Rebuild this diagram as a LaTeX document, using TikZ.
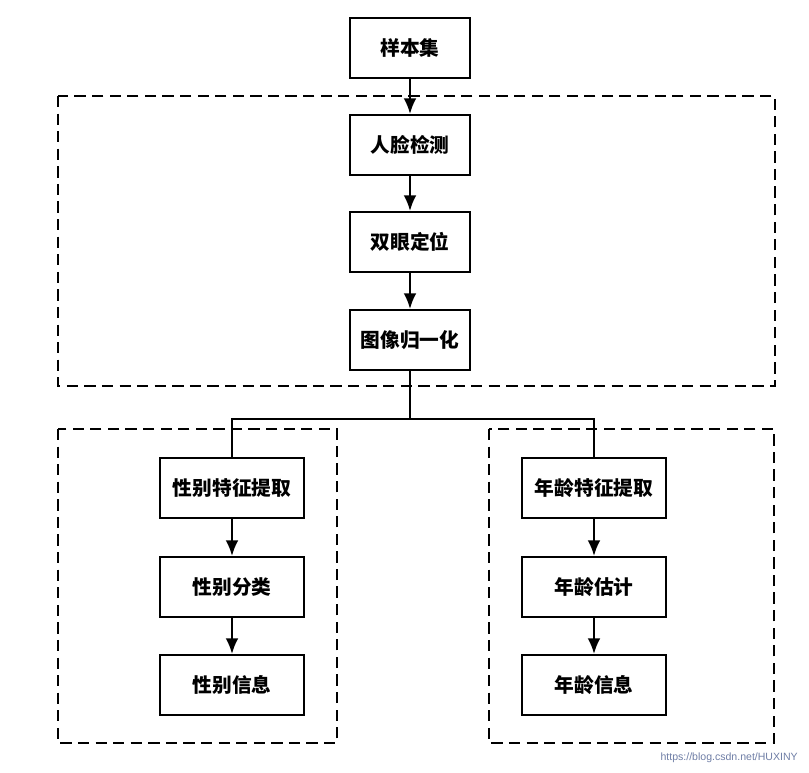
\documentclass[tikz,border=0pt]{standalone}
\usepackage{fontspec}
\newfontfamily\cjk{Noto Sans CJK SC}
\newfontfamily\wmfont{Liberation Sans}
\usetikzlibrary{arrows.meta}
\definecolor{wmblue}{RGB}{110,125,165}
\tikzset{
  blk/.style={draw, line width=1.5pt, minimum width=3cm, minimum height=1.5cm,
    font=\cjk\bfseries\fontsize{14}{16}\selectfont},
  wideblk/.style={blk, minimum width=3.6cm},
  grp/.style={draw, line width=1.4pt, dash pattern=on 8pt off 4.5pt},
  flow/.style={line width=1.4pt, -{Latex[length=11pt,width=9pt]}},
  link/.style={line width=1.1pt}
}
\begin{document}
\begin{tikzpicture}[x=0.025cm,y=-0.025cm]
\useasboundingbox (0,0) rectangle (809,773);

% preprocessing chain
\node[blk] (sample) at (410,48) {样本集};
\node[blk] (detect) at (410,145) {人脸检测};
\node[blk] (locate) at (410,242) {双眼定位};
\node[blk] (norm) at (410,340) {图像归一化};

% gender branch
\node[wideblk] (gfeat) at (232,488) {性别特征提取};
\node[wideblk] (gcls) at (232,587) {性别分类};
\node[wideblk] (ginfo) at (232,685) {性别信息};

% age branch
\node[wideblk] (afeat) at (594,488) {年龄特征提取};
\node[wideblk] (aest) at (594,587) {年龄估计};
\node[wideblk] (ainfo) at (594,685) {年龄信息};

% dashed groups
\draw[grp] (58,96) rectangle (775,386);
\draw[grp] (58,429) rectangle (337,743);
\draw[grp] (489,429) rectangle (774,743);

\draw[flow] (sample) -- (detect);
\draw[flow] (detect) -- (locate);
\draw[flow] (locate) -- (norm);

\coordinate (split) at (410,419);
\draw[link] (norm) -- (split) -| (gfeat);
\draw[link] (split) -| (afeat);

\draw[flow] (gfeat) -- (gcls);
\draw[flow] (gcls) -- (ginfo);
\draw[flow] (afeat) -- (aest);
\draw[flow] (aest) -- (ainfo);

\node[font=\wmfont\fontsize{7.5}{9}\selectfont, text=wmblue, anchor=east, inner sep=0pt] (wm) at (798,758) {https://blog.csdn.net/HUXINY};
\end{tikzpicture}
\end{document}
